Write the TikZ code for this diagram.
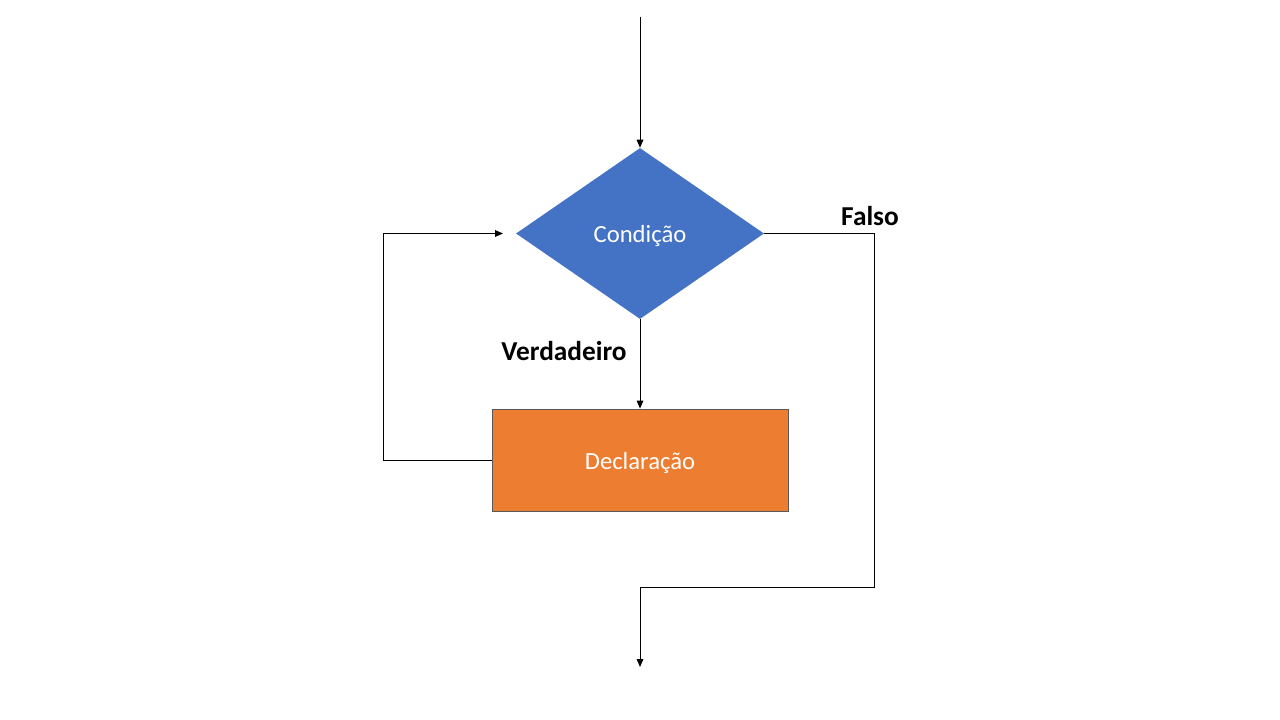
\documentclass[tikz,border=0pt]{standalone}
\usepackage{fontspec}
\setmainfont{Carlito}
\usetikzlibrary{shapes.geometric,arrows.meta}
\definecolor{cblue}{HTML}{4472C4}
\definecolor{corange}{HTML}{ED7D31}
\begin{document}
\begin{tikzpicture}[x=0.75pt,y=-0.75pt,
  conn/.style={line width=0.75pt,black},
  arr/.style={conn,-{Triangle[length=6pt,width=5pt]}},
  boxtext/.style={text=white,font=\fontsize{18.5}{22}\selectfont},
  lbl/.style={font=\fontsize{20.5}{24}\selectfont\bfseries,text=black}]
\useasboundingbox[fill=white] (0,0) rectangle (1280,720);
\node[diamond,fill=cblue,draw=none,inner sep=0pt,minimum width=186pt,minimum height=128.25pt,boxtext] (cond) at (640,233.5) {\raisebox{-2.2pt}[\height][\depth]{Condição}};
\node[rectangle,fill=corange,draw=black!65,line width=0.6pt,minimum width=222pt,minimum height=76.5pt,boxtext] (decl) at (640,460) {\raisebox{-2.2pt}[\height][\depth]{Declaração}};
\coordinate (top) at (640,17);
\coordinate (bot) at (640,667);
\coordinate (l1) at (383,460);
\coordinate (l2) at (383,233.5);
\coordinate (loopin) at (503,233.5);
\coordinate (f1) at (874,233.5);
\coordinate (f2) at (874,587);
\coordinate (f3) at (640,587);
\draw[arr] (top) -- (cond.north);
\draw[arr] (cond.south) -- (decl.north);
\draw[arr] (decl.west) -- (l1) -- (l2) -- (loopin);
\draw[arr] (cond.east) -- (f1) -- (f2) -- (f3) -- (bot);
\node[lbl] (falso) at (870,216) {Falso};
\node[lbl] (verd) at (564,351) {Verdadeiro};
\end{tikzpicture}
\end{document}
